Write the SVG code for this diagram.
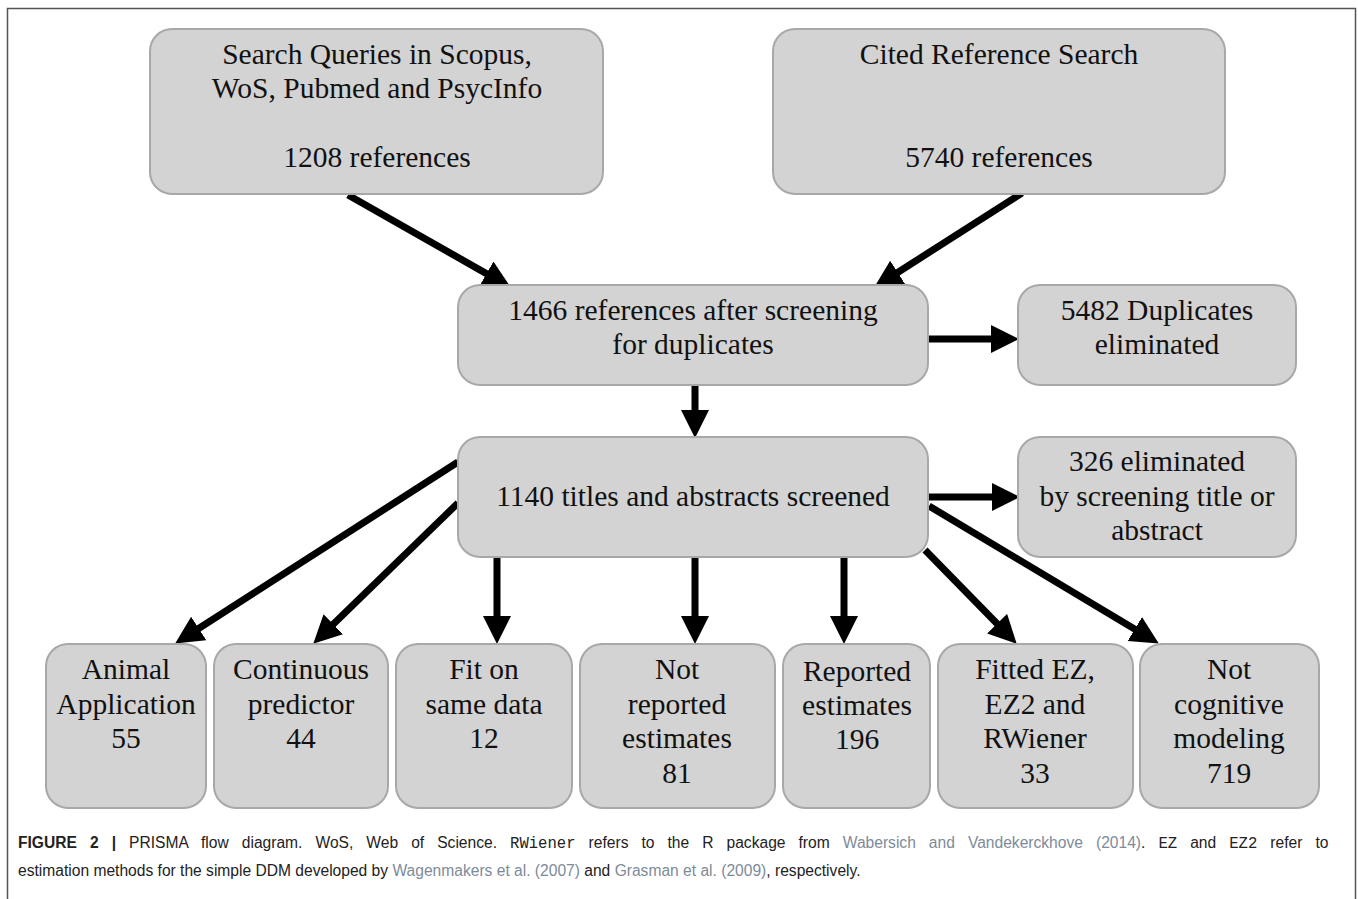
<svg xmlns="http://www.w3.org/2000/svg" width="1358" height="899" viewBox="0 0 1358 899">
<style>
.box{fill:#d3d3d3;stroke:#a8a8a8;stroke-width:2}
.t{font-family:"Liberation Serif","Times New Roman",serif;font-size:29.5px;fill:#111;text-anchor:middle}
.arr{stroke:#000;stroke-width:7;fill:none;marker-end:url(#ah)}
.cap{font-family:"Liberation Sans",Arial,sans-serif;font-size:15.6px;fill:#222}
.lnk{fill:#7d8b99}
.mono{font-family:"Liberation Mono","Courier New",monospace}
</style>
<defs>
<marker id="ah" markerUnits="userSpaceOnUse" markerWidth="29" markerHeight="29" refX="7" refY="14" orient="auto">
<path d="M0,0 L28,14 L0,28 z" fill="#000"/>
</marker>
</defs>
<rect width="1358" height="899" fill="#fff"/>
<path d="M7.5,899 V8.5 H1355.5 V899" fill="none" stroke="#555" stroke-width="1.5"/>

<g id="connectors">
<line class="arr" x1="348" y1="195" x2="492.6" y2="277.1"/>
<line class="arr" x1="1022" y1="193" x2="891.8" y2="276.2"/>
<line class="arr" x1="928" y1="339" x2="998" y2="339"/>
<line class="arr" x1="695" y1="386" x2="695" y2="417"/>
<line class="arr" x1="928" y1="497" x2="999" y2="497"/>
<line class="arr" x1="458" y1="462" x2="192.8" y2="632.2"/>
<line class="arr" x1="458" y1="503" x2="328.3" y2="629.1"/>
<line class="arr" x1="497" y1="558" x2="497" y2="623"/>
<line class="arr" x1="695" y1="558" x2="695" y2="623"/>
<line class="arr" x1="844" y1="558" x2="844" y2="623"/>
<line class="arr" x1="925" y1="550" x2="1002" y2="628.7"/>
<line class="arr" x1="929" y1="506" x2="1140.8" y2="632.7"/>
</g>

<g id="search">
<rect class="box" x="150" y="29" width="453" height="165" rx="22"/>
<text class="t" x="377" y="64">Search Queries in Scopus,</text>
<text class="t" x="377" y="98">WoS, Pubmed and PsycInfo</text>
<text class="t" x="377" y="167">1208 references</text>
</g>
<g id="cited">
<rect class="box" x="773" y="29" width="452" height="165" rx="22"/>
<text class="t" x="999" y="64">Cited Reference Search</text>
<text class="t" x="999" y="167">5740 references</text>
</g>
<g id="dedup">
<rect class="box" x="458" y="285" width="470" height="100" rx="22"/>
<text class="t" x="693" y="320">1466 references after screening</text>
<text class="t" x="693" y="354">for duplicates</text>
</g>
<g id="duplicates">
<rect class="box" x="1018" y="285" width="278" height="100" rx="22"/>
<text class="t" x="1157" y="320">5482 Duplicates</text>
<text class="t" x="1157" y="354">eliminated</text>
</g>
<g id="screened">
<rect class="box" x="458" y="437" width="470" height="120" rx="22"/>
<text class="t" x="693" y="506">1140 titles and abstracts screened</text>
</g>
<g id="elim326">
<rect class="box" x="1018" y="437" width="278" height="120" rx="22"/>
<text class="t" x="1157" y="471">326 eliminated</text>
<text class="t" x="1157" y="506">by screening title or</text>
<text class="t" x="1157" y="540">abstract</text>
</g>
<g id="animal">
<rect class="box" x="46" y="644" width="160" height="164" rx="22"/>
<text class="t" x="126" y="679">Animal</text>
<text class="t" x="126" y="714">Application</text>
<text class="t" x="126" y="748">55</text>
</g>
<g id="continuous">
<rect class="box" x="214" y="644" width="174" height="164" rx="22"/>
<text class="t" x="301" y="679">Continuous</text>
<text class="t" x="301" y="714">predictor</text>
<text class="t" x="301" y="748">44</text>
</g>
<g id="fiton">
<rect class="box" x="396" y="644" width="176" height="164" rx="22"/>
<text class="t" x="484" y="679">Fit on</text>
<text class="t" x="484" y="714">same data</text>
<text class="t" x="484" y="748">12</text>
</g>
<g id="notreported">
<rect class="box" x="580" y="644" width="195" height="164" rx="22"/>
<text class="t" x="677" y="679">Not</text>
<text class="t" x="677" y="714">reported</text>
<text class="t" x="677" y="748">estimates</text>
<text class="t" x="677" y="783">81</text>
</g>
<g id="reported">
<rect class="box" x="783" y="644" width="147" height="164" rx="22"/>
<text class="t" x="857" y="681">Reported</text>
<text class="t" x="857" y="715">estimates</text>
<text class="t" x="857" y="749">196</text>
</g>
<g id="fitted">
<rect class="box" x="938" y="644" width="195" height="164" rx="22"/>
<text class="t" x="1035" y="679">Fitted EZ,</text>
<text class="t" x="1035" y="714">EZ2 and</text>
<text class="t" x="1035" y="748">RWiener</text>
<text class="t" x="1035" y="783">33</text>
</g>
<g id="notcognitive">
<rect class="box" x="1140" y="644" width="179" height="164" rx="22"/>
<text class="t" x="1229" y="679">Not</text>
<text class="t" x="1229" y="714">cognitive</text>
<text class="t" x="1229" y="748">modeling</text>
<text class="t" x="1229" y="783">719</text>
</g>

<g id="caption">
<text class="cap" x="18" y="848" word-spacing="8.7"><tspan font-weight="bold">FIGURE 2 |</tspan> PRISMA flow diagram. WoS, Web of Science. <tspan class="mono">RWiener</tspan> refers to the R package from <tspan class="lnk">Wabersich and Vandekerckhove (2014)</tspan>. <tspan class="mono">EZ</tspan> and <tspan class="mono">EZ2</tspan> refer to</text>
<text class="cap" x="18" y="876">estimation methods for the simple DDM developed by <tspan class="lnk">Wagenmakers et al. (2007)</tspan> and <tspan class="lnk">Grasman et al. (2009)</tspan>, respectively.</text>
</g>
</svg>
